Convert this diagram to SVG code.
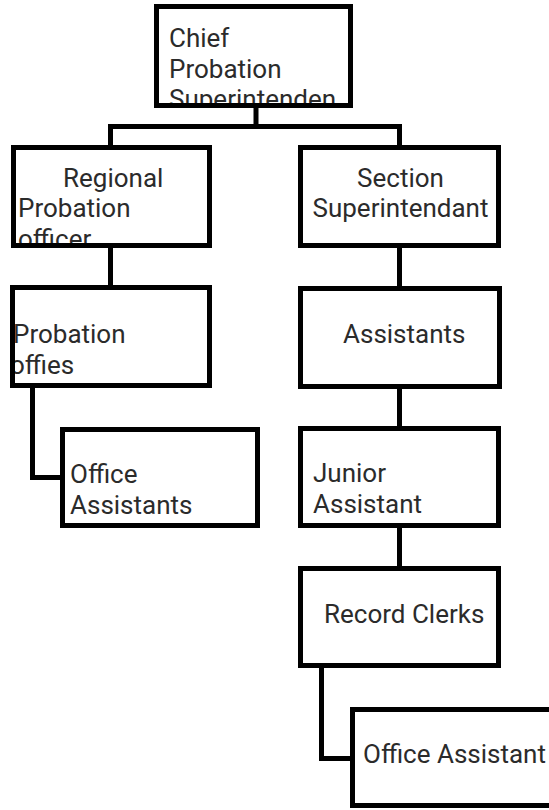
<svg xmlns="http://www.w3.org/2000/svg" width="549" height="810" viewBox="0 0 549 810">
<style>
.box{fill:#fff;stroke:#000;stroke-width:5}
.frame{fill:none;stroke:#000;stroke-width:5}
.conn{fill:none;stroke:#000;stroke-width:5}
text{font-family:Roboto,"Liberation Sans",sans-serif;font-size:26px;fill:#2b2b2b}
</style>
<defs>
<clipPath id="cChief"><rect x="154" y="4" width="199" height="104"/></clipPath>
<clipPath id="cReg"><rect x="11" y="145" width="201" height="103"/></clipPath>
<clipPath id="cPO"><rect x="10" y="285" width="202" height="103"/></clipPath>
</defs>
<g id="connectors">
<path class="conn" d="M256,105.5V126.5M110.5,126.5H399.5M110.5,124V147.5M399.5,124V147.5"/>
<path class="conn" d="M110.5,245.5V287.5"/>
<path class="conn" d="M399.5,245.5V288.5M399.5,386.5V428.5M399.5,525.5V568.5"/>
<path class="conn" d="M32.5,385.5V477.5H62.5"/>
<path class="conn" d="M321.5,665.5V758.5H352.5"/>
</g>
<g id="chief">
<rect class="box" x="156.5" y="6.5" width="194" height="99"/>
<g clip-path="url(#cChief)">
<text x="169" y="47">Chief</text>
<text x="169" y="78">Probation</text>
<text x="169" y="108">Superintenden</text>
</g>
<rect class="frame" x="156.5" y="6.5" width="194" height="99"/>
</g>
<g id="regional">
<rect class="box" x="13.5" y="147.5" width="196" height="98"/>
<g clip-path="url(#cReg)">
<text x="63" y="187">Regional</text>
<text x="18" y="217">Probation</text>
<text x="18" y="248">officer</text>
</g>
<rect class="frame" x="13.5" y="147.5" width="196" height="98"/>
</g>
<g id="section">
<rect class="box" x="300.5" y="147.5" width="198" height="98"/>
<text x="400.5" y="187" text-anchor="middle">Section</text>
<text x="400.5" y="217" text-anchor="middle">Superintendant</text>
</g>
<g id="probation-offices">
<rect class="box" x="12.5" y="287.5" width="197" height="98"/>
<g clip-path="url(#cPO)">
<text x="13" y="342.5">Probation</text>
<text x="10" y="373.5">offies</text>
</g>
<rect class="frame" x="12.5" y="287.5" width="197" height="98"/>
</g>
<g id="assistants">
<rect class="box" x="300.5" y="288.5" width="199" height="98"/>
<text x="343" y="343">Assistants</text>
</g>
<g id="office-assistants">
<rect class="box" x="62.5" y="429.5" width="195" height="96"/>
<text x="70" y="483">Office</text>
<text x="70" y="514">Assistants</text>
</g>
<g id="junior-assistant">
<rect class="box" x="300.5" y="428.5" width="198" height="97"/>
<text x="313" y="482">Junior</text>
<text x="313" y="513">Assistant</text>
</g>
<g id="record-clerks">
<rect class="box" x="300.5" y="568.5" width="198" height="97"/>
<text x="324" y="623">Record Clerks</text>
</g>
<g id="office-assistant">
<rect class="box" x="352.5" y="709.5" width="250" height="96"/>
<text x="363" y="763">Office Assistant</text>
</g>
</svg>
